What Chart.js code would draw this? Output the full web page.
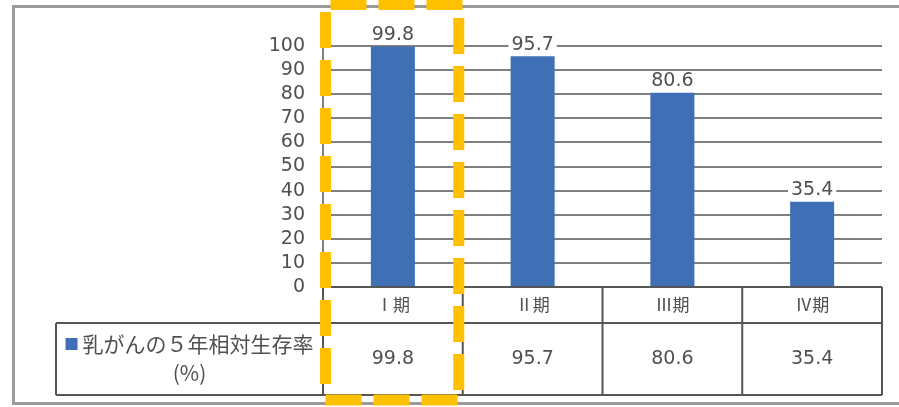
<!DOCTYPE html>
<html lang="ja">
<head>
<meta charset="utf-8">
<script src="https://cdn.jsdelivr.net/npm/chart.js@4"></script>
<style>
  html, body { margin: 0; padding: 0; background: #fff; }
  #wrap { width: 899px; height: 407px; }
</style>
</head>
<body>
<div id="wrap"><canvas id="chart" width="899" height="407"></canvas></div>
<script>
// 5-year relative survival by stage
const stages = ['Ⅰ期', 'Ⅱ期', 'Ⅲ期', 'Ⅳ期'];
const survivalRates = [99.8, 95.7, 80.6, 35.4];
const seriesName = '乳がんの５年相対生存率';
const seriesUnit = '(%)';
const yMin = 0, yMax = 100, yStep = 10;

const NUM_FONT = "'DejaVu Sans', 'Noto Sans CJK JP', sans-serif";
const JP_FONT = "'Noto Sans CJK JP', 'DejaVu Sans', sans-serif";
const TEXT = '#505050';
const BAR = '#3f70b6';

// outer frame, value labels, data table and the dashed highlight on stage I
const tablePlugin = {
  id: 'tablePlugin',
  beforeDraw(chart) {
    const ctx = chart.ctx;
    ctx.save();
    ctx.fillStyle = '#fff';
    ctx.fillRect(0, 0, chart.width, chart.height);
    ctx.strokeStyle = '#9a9a9a';
    ctx.lineWidth = 3;
    ctx.strokeRect(13.5, 6.5, chart.width + 20, chart.height - 10);
    ctx.restore();
  },
  afterDatasetsDraw(chart) {
    const ctx = chart.ctx;
    const meta = chart.getDatasetMeta(0);
    ctx.save();
    ctx.font = '19px ' + NUM_FONT;
    ctx.textAlign = 'center';
    ctx.textBaseline = 'middle';
    meta.data.forEach((bar, i) => {
      const txt = survivalRates[i].toFixed(1);
      const w = ctx.measureText(txt).width;
      const cy = bar.y - 11.5;
      ctx.fillStyle = '#fff';
      ctx.fillRect(bar.x - w / 2 - 3, cy - 9, w + 6, 17);
      ctx.fillStyle = TEXT;
      ctx.fillText(txt, bar.x, cy);
    });
    ctx.restore();
  },
  afterDraw(chart) {
    const ctx = chart.ctx;
    const area = chart.chartArea;
    const n = stages.length;
    const colW = (area.right - area.left) / n;
    const top = area.bottom;
    const mid = top + 36;
    const bottom = top + 108;
    const legendLeft = 56;

    ctx.save();
    ctx.strokeStyle = '#555';
    ctx.lineWidth = 2;
    ctx.beginPath();
    ctx.moveTo(area.left, top); ctx.lineTo(area.right, top);
    ctx.moveTo(legendLeft, mid); ctx.lineTo(area.right, mid);
    ctx.moveTo(legendLeft, bottom); ctx.lineTo(area.right, bottom);
    ctx.moveTo(legendLeft, mid); ctx.lineTo(legendLeft, bottom);
    for (let i = 0; i <= n; i++) {
      const x = area.left + colW * i;
      ctx.moveTo(x, top); ctx.lineTo(x, bottom);
    }
    ctx.stroke();

    ctx.textAlign = 'center';
    ctx.textBaseline = 'middle';
    stages.forEach((s, i) => {
      const cx = area.left + colW * (i + 0.5);
      ctx.fillStyle = TEXT;
      ctx.font = '17px ' + JP_FONT;
      ctx.fillText(s, cx, top + 18);
      ctx.font = '19px ' + NUM_FONT;
      ctx.fillText(survivalRates[i].toFixed(1), cx, (mid + bottom) / 2);
    });

    // series legend cell
    ctx.font = '21px ' + JP_FONT;
    const nameW = ctx.measureText(seriesName).width;
    const lcx = (legendLeft + area.left) / 2;
    const sq = 12, gap = 5;
    const startX = lcx - (sq + gap + nameW) / 2;
    ctx.fillStyle = BAR;
    ctx.fillRect(startX, mid + 15, sq, sq);
    ctx.fillStyle = TEXT;
    ctx.textAlign = 'left';
    ctx.fillText(seriesName, startX + sq + gap, mid + 21);
    ctx.textAlign = 'center';
    ctx.font = '21px ' + JP_FONT;
    ctx.fillText(seriesUnit, lcx, mid + 50);

    // dashed highlight around the first stage column
    const hl = area.left + 2.5;
    const hr = area.left + colW - 4;
    ctx.strokeStyle = '#ffc000';
    ctx.lineWidth = 11;
    ctx.lineCap = 'butt';
    ctx.setLineDash([36, 12]);
    ctx.beginPath();
    ctx.moveTo(hl + 5, 4.5); ctx.lineTo(hr + 6, 4.5);
    ctx.moveTo(hl, 12); ctx.lineTo(hl, 396);
    ctx.moveTo(hr, 18); ctx.lineTo(hr, 396);
    ctx.moveTo(hl, 400); ctx.lineTo(hr + 6, 400);
    ctx.stroke();
    ctx.restore();
  }
};

new Chart(document.getElementById('chart'), {
  type: 'bar',
  data: {
    labels: stages,
    datasets: [{
      label: seriesName,
      data: survivalRates,
      backgroundColor: BAR,
      borderWidth: 0,
      categoryPercentage: 1,
      barPercentage: 0.315
    }]
  },
  options: {
    responsive: false,
    animation: false,
    devicePixelRatio: 1,
    layout: { padding: { top: 46, bottom: 120, left: 0, right: 17 } },
    plugins: {
      legend: { display: false },
      tooltip: { enabled: false }
    },
    scales: {
      x: { display: false },
      y: {
        min: yMin,
        max: yMax,
        afterFit: (scale) => { scale.width = 323; },
        grid: { color: '#808080', lineWidth: 2, drawTicks: false },
        border: { display: true, color: '#808080', width: 2 },
        ticks: {
          stepSize: yStep,
          autoSkip: false,
          padding: 18,
          color: TEXT,
          font: { family: NUM_FONT, size: 19 }
        }
      }
    }
  },
  plugins: [tablePlugin]
});
</script>
</body>
</html>
